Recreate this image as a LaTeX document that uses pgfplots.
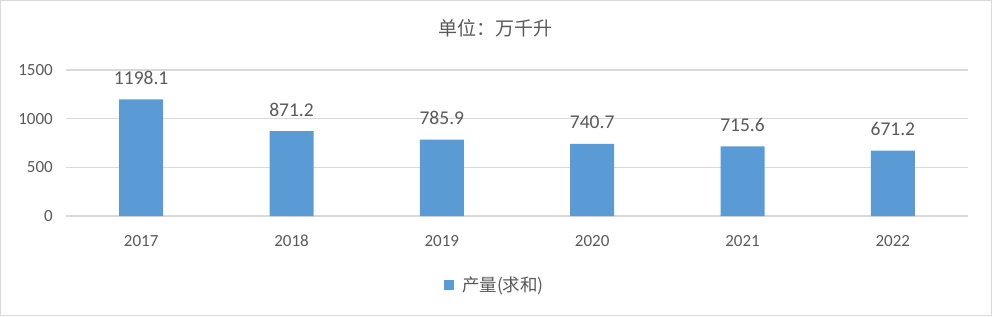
\documentclass[border=0pt]{standalone}
\usepackage{pgfplots}
\pgfplotsset{compat=1.18}
\usepackage{pgfplotstable}
\usepackage{fontspec}
\setmainfont{Carlito}
\newfontfamily\cjk{Noto Sans CJK SC}
\definecolor{barblue}{HTML}{5B9BD5}
\definecolor{gridgray}{HTML}{D9D9D9}
\definecolor{txt}{HTML}{595959}
\pgfplotstableread{
x y lab
0 1198.1 1198.1
1 871.2 871.2
2 785.9 785.9
3 740.7 740.7
4 715.6 715.6
5 671.2 671.2
}\datatable
\begin{document}
\begin{tikzpicture}[x=1bp,y=1bp]
\path (0,0) rectangle (992,316);
\draw[draw=gridgray, line width=1.3bp] (0.65,0.65) rectangle (991.35,315.35);
\node[text=txt, font=\cjk\fontsize{19bp}{22bp}\selectfont, inner sep=0] at (495,288) {单位：万千升};
\begin{axis}[
  at={(66bp,100bp)}, anchor=south west,
  scale only axis, width=902bp, height=146bp,
  xmin=-0.5, xmax=5.5, ymin=0, ymax=1500,
  ybar, bar width=44bp,
  xtick={0,1,2,3,4,5},
  xticklabels={2017,2018,2019,2020,2021,2022},
  ytick={0,500,1000,1500},
  ymajorgrids,
  major grid style={draw=gridgray, line width=1.3bp},
  axis line style={draw=none},
  major tick length=0pt,
  /pgf/number format/assume math mode=true,
  /pgf/number format/1000 sep={},
  tick label style={text=txt, font=\fontsize{17bp}{20bp}\selectfont},
  xticklabel style={anchor=base, yshift=-30.5bp},
  yticklabel style={inner sep=0pt, xshift=-13bp},
  nodes near coords,
  point meta=explicit symbolic,
  every node near coord/.append style={anchor=base, text=txt, font=\fontsize{19.5bp}{22bp}\selectfont, yshift=15bp, inner sep=0pt},
  legend style={at={(0.4756,-0.4726)}, anchor=center, draw=none, fill=none, font=\cjk\fontsize{17.5bp}{20bp}\selectfont, text=txt, inner sep=0pt},
  legend image code/.code={\fill[barblue] (0bp,-5bp) rectangle (10bp,5bp);},
  clip=false,
]
\addplot[fill=barblue, draw=none] table[x=x, y=y, meta=lab] {\datatable};
\addlegendentry{\hspace{6bp}产量(求和)}
\end{axis}
\end{tikzpicture}
\end{document}
